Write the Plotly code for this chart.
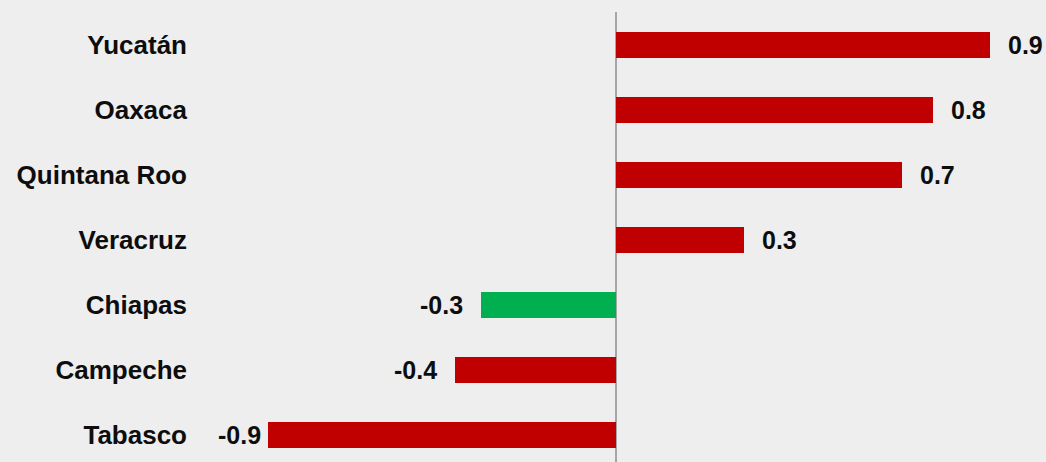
import plotly.graph_objects as go

states = ["Yucatán", "Oaxaca", "Quintana Roo", "Veracruz", "Chiapas", "Campeche", "Tabasco"]
values = [0.936, 0.794, 0.715, 0.32, -0.337, -0.402, -0.869]
bar_colors = ["#C00000", "#C00000", "#C00000", "#C00000", "#00B050", "#C00000", "#C00000"]

fig = go.Figure()
fig.add_trace(go.Bar(
    y=states, x=values, orientation="h",
    marker=dict(color=bar_colors, line=dict(width=0)),
    width=0.4, hoverinfo="skip",
))

annotations = []
for s, v in zip(states, values):
    if v >= 0:
        anchor, shift = "left", 16
    else:
        anchor = "right"
        shift = -5 if v < -0.8 else -16
    annotations.append(dict(
        x=v, y=s, xref="x", yref="y", text=f"{v:.1f}", showarrow=False,
        xanchor=anchor, yanchor="middle", xshift=shift,
        font=dict(family="Liberation Sans, Arial, sans-serif", size=25, color="#0D0D0D", weight="bold"),
    ))

fig.update_layout(
    width=1046, height=462,
    margin=dict(l=196, r=0, t=12, b=0),
    paper_bgcolor="#EEEEEE", plot_bgcolor="#EEEEEE",
    showlegend=False, bargap=0,
    annotations=annotations,
    xaxis=dict(range=[-1.049, 1.076], showgrid=False, showticklabels=False, ticks="",
               zeroline=True, zerolinecolor="#A6A6A6", zerolinewidth=1.5, fixedrange=True),
    yaxis=dict(type="category", categoryorder="array", categoryarray=states,
               range=[6.41, -0.5], showgrid=False, zeroline=False, ticks="",
               ticklabelstandoff=8,
               tickfont=dict(family="Liberation Sans, Arial, sans-serif", size=26, color="#0D0D0D", weight="bold")),
)

fig.write_html(
    "out.html",
    config={"displayModeBar": False},
    post_script="document.body.style.margin='0';document.body.style.background='#EEEEEE';",
)
